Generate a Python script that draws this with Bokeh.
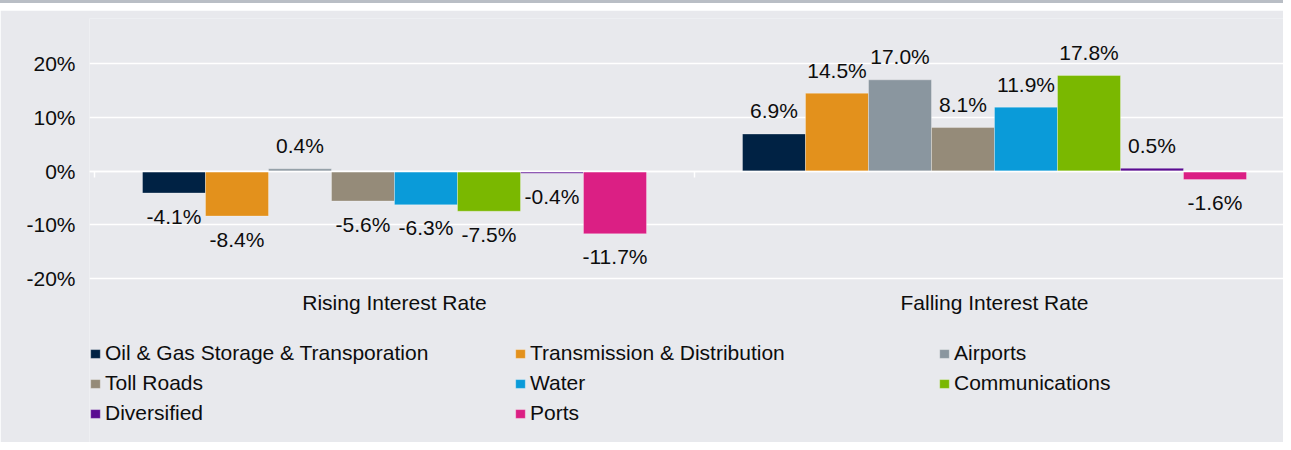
from bokeh.plotting import figure
from bokeh.models import (Range1d, LinearAxis, FixedTicker, PrintfTickFormatter,
                          Legend, LegendItem, ColumnDataSource, Div, Spacer)
from bokeh.layouts import column
from bokeh.embed import file_html
from bokeh.resources import INLINE

categories = ["Rising Interest Rate", "Falling Interest Rate"]
series = ["Oil & Gas Storage & Transporation", "Transmission & Distribution", "Airports",
          "Toll Roads", "Water", "Communications", "Diversified", "Ports"]
oil_gas = [-4.1, 6.9]
transmission = [-8.4, 14.5]
airports = [0.4, 17.0]
toll_roads = [-5.6, 8.1]
water = [-6.3, 11.9]
communications = [-7.5, 17.8]
diversified = [-0.4, 0.5]
ports = [-11.7, -1.6]
values = [oil_gas, transmission, airports, toll_roads, water, communications, diversified, ports]
colors = ["#002244", "#E3911C", "#8A969F", "#958B79", "#0A9BD9", "#7AB800", "#5A0C91", "#DB1F84"]
y_ticks = [-20, -10, 0, 10, 20]

FONT = "Liberation Sans"
BG = "#e8e9ed"
TXT = "#0d0d0d"

x0 = -5 / 600
p = figure(width=1283, height=432, output_backend="svg", toolbar_location=None,
           x_range=Range1d(x0, x0 + 1194 / 600), y_range=Range1d(-50.61, 28.43),
           min_border_left=89, min_border_right=0, min_border_top=8, min_border_bottom=0,
           background_fill_color=BG, border_fill_color=BG, outline_line_color=None,
           margin=(0, 0, 0, 0))
p.xaxis.visible = False
p.xgrid.visible = False
p.yaxis.ticker = FixedTicker(ticks=y_ticks)
p.yaxis.formatter = PrintfTickFormatter(format="%d%%")
p.yaxis.axis_line_color = None
p.yaxis.major_tick_line_color = None
p.yaxis.minor_tick_line_color = None
p.yaxis.major_tick_out = 0
p.yaxis.major_tick_in = 0
p.yaxis.major_label_standoff = 14
p.yaxis.major_label_text_font = FONT
p.yaxis.major_label_text_font_size = "21px"
p.yaxis.major_label_text_color = TXT
p.ygrid.ticker = FixedTicker(ticks=y_ticks)
p.ygrid.grid_line_color = "white"
p.ygrid.grid_line_width = 1.5

n = len(series)
bar_w = 0.84 / n
cat_x = [0.5, 1.5]
renderers = []
for i, (name, vals, col) in enumerate(zip(series, values, colors)):
    xs = [c + (i - (n - 1) / 2) * bar_w for c in cat_x]
    src = ColumnDataSource(dict(x=xs, top=vals,
                                lab=[f"{v:.1f}%" for v in vals],
                                off=[-23 if v >= 0 else 23 for v in vals]))
    r = p.vbar(x="x", top="top", bottom=0, width=bar_w, source=src,
               fill_color=col, line_color="white", line_alpha=0.3, line_width=1)
    renderers.append(r)
    p.text(x="x", y="top", text="lab", y_offset="off", source=src,
           text_align="center", text_baseline="middle",
           text_font={"value": FONT}, text_font_size="21px", text_color=TXT)

# zero axis with category separator ticks
zero_axis = LinearAxis(fixed_location=0, ticker=FixedTicker(ticks=[0, 1, 2]),
                       axis_line_color="white", axis_line_width=1.5,
                       major_tick_line_color="white", major_tick_line_width=1.5,
                       major_tick_out=6, major_tick_in=0,
                       minor_tick_line_color=None, major_label_text_alpha=0,
                       major_label_text_font_size="1px")
p.add_layout(zero_axis, "below")

# category labels below the lowest gridline
cat_axis = LinearAxis(fixed_location=y_ticks[0] - 1.7, ticker=FixedTicker(ticks=cat_x),
                      major_label_overrides={cat_x[0]: categories[0], cat_x[1]: categories[1]},
                      axis_line_color=None, major_tick_line_color=None,
                      major_tick_out=0, major_tick_in=0,
                      minor_tick_line_color=None, major_label_standoff=4,
                      major_label_text_font=FONT, major_label_text_font_size="21px",
                      major_label_text_color=TXT)
p.add_layout(cat_axis, "below")

columns = [[0, 3, 6], [1, 4, 7], [2, 5]]
col_x = [0, 425, 849]
for cx, idxs in zip(col_x, columns):
    items = [LegendItem(label=series[k], renderers=[renderers[k]]) for k in idxs]
    h = 30 * len(idxs)
    lg = Legend(items=items, location=(cx, 442 - 338 - h), orientation="vertical",
                background_fill_alpha=0, border_line_alpha=0, padding=0, margin=0,
                spacing=0, label_height=30, glyph_width=12, glyph_height=11,
                label_standoff=4, label_text_font=FONT, label_text_font_size="21px",
                label_text_color=TXT, label_text_baseline="middle")
    p.add_layout(lg, "center")

band = Div(width=1283, height=3, margin=(0, 0, 0, 0),
           styles={"background-color": "#b9bec5"})
gap = Spacer(width=1283, height=7, margin=(0, 0, 0, 0))
layout = column(band, gap, p, spacing=0, margin=(0, 0, 0, 0))

open("out.html", "w").write(file_html(layout, INLINE))
